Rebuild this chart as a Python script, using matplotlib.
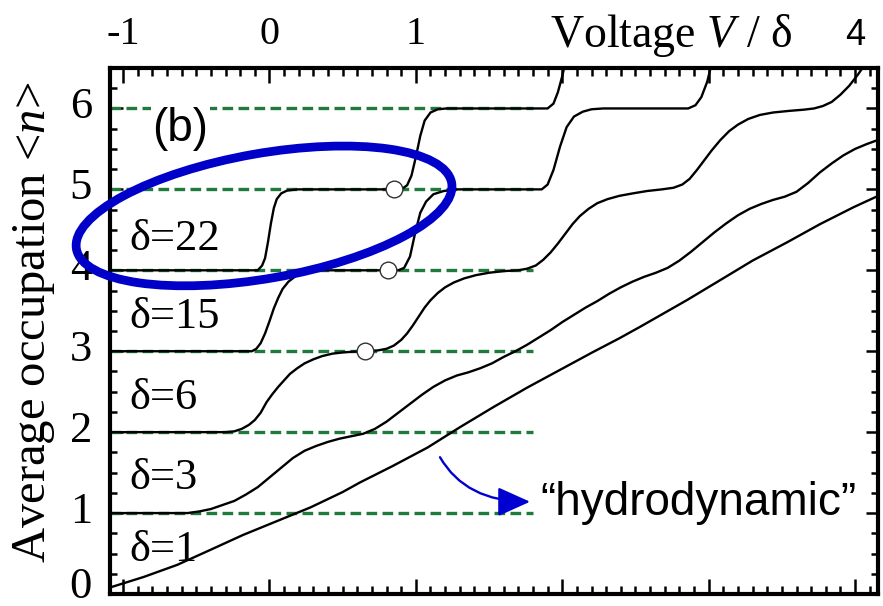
import numpy as np
import matplotlib.pyplot as plt
from matplotlib.patches import Ellipse, FancyArrowPatch
from matplotlib.transforms import IdentityTransform, ScaledTranslation

plt.rcParams['font.family'] = ['Liberation Serif', 'DejaVu Serif']
plt.rcParams['mathtext.fontset'] = 'custom'
plt.rcParams['mathtext.rm'] = 'Liberation Serif'
plt.rcParams['mathtext.it'] = 'Liberation Serif:italic'

# occupation curves <n>(V/delta), one per level spacing
d22_v = [-1.09, -0.08, -0.05, -0.03, -0.01, 0.01, 0.03, 0.05, 0.08, 0.12, 0.19,
         0.90, 0.94, 0.97, 1.00, 1.03, 1.06, 1.10, 1.15, 1.21,
         1.90, 1.94, 1.97, 2.00, 2.02]
d22_n = [4.0, 4.0, 4.06, 4.15, 4.35, 4.58, 4.77, 4.88, 4.95, 4.985, 5.0,
         5.0, 5.05, 5.17, 5.40, 5.66, 5.85, 5.95, 5.99, 6.0,
         6.0, 6.06, 6.2, 6.4, 6.56]

d15_v = [-1.09, -0.12, -0.09, -0.06, -0.03, 0.00, 0.03, 0.06, 0.09, 0.13, 0.18,
         0.24, 0.30, 0.36,
         0.88, 0.92, 0.96, 0.995, 1.03, 1.07, 1.12, 1.19, 1.28,
         1.86, 1.90, 1.94, 1.985, 2.03, 2.08, 2.14, 2.20, 2.28,
         2.86, 2.91, 2.95, 2.99, 3.02]
d15_n = [3.0, 3.0, 3.03, 3.10, 3.22, 3.37, 3.53, 3.66, 3.77, 3.86, 3.93,
         3.97, 3.99, 4.0,
         4.0, 4.03, 4.17, 4.46, 4.71, 4.85, 4.94, 4.98, 5.0,
         5.0, 5.06, 5.24, 5.53, 5.77, 5.90, 5.96, 5.99, 6.0,
         6.0, 6.04, 6.14, 6.33, 6.55]

d6_v = [-1.09, -0.30, -0.24, -0.19, -0.14, -0.10, -0.06, -0.02, 0.02, 0.06,
        0.10, 0.14, 0.19, 0.24, 0.30, 0.36, 0.43, 0.50, 0.58, 0.66, 0.74,
        0.80, 0.85, 0.90, 0.94, 0.98, 1.02, 1.06, 1.10, 1.15, 1.20, 1.26,
        1.33, 1.41, 1.50, 1.60, 1.70, 1.76, 1.82, 1.87, 1.92, 1.97, 2.02,
        2.07, 2.12, 2.18, 2.24, 2.31, 2.39, 2.48, 2.58, 2.68, 2.76, 2.82,
        2.87, 2.92, 2.97, 3.02, 3.08, 3.14, 3.20, 3.27, 3.35, 3.44, 3.55,
        3.65, 3.72, 3.78, 3.84, 3.90, 3.96, 4.02, 4.07]
d6_n = [2.0, 2.0, 2.01, 2.04, 2.09, 2.15, 2.24, 2.37, 2.47, 2.56,
        2.64, 2.72, 2.79, 2.85, 2.90, 2.94, 2.97, 2.985, 2.995, 3.0, 3.01,
        3.03, 3.07, 3.14, 3.22, 3.32, 3.43, 3.54, 3.63, 3.72, 3.79, 3.85,
        3.90, 3.94, 3.97, 3.99, 4.0, 4.02, 4.06, 4.13, 4.22, 4.33, 4.45,
        4.57, 4.67, 4.76, 4.83, 4.88, 4.92, 4.95, 4.98, 5.0, 5.02, 5.06,
        5.13, 5.24, 5.36, 5.48, 5.61, 5.72, 5.80, 5.87, 5.92, 5.95, 5.97,
        5.985, 6.0, 6.03, 6.08, 6.17, 6.28, 6.42, 6.55]

d3_v = [-1.09, -0.56, -0.48, -0.40, -0.32, -0.24, -0.16, -0.08, 0.00, 0.08,
        0.16, 0.24, 0.32, 0.40, 0.48, 0.56, 0.64, 0.72, 0.80, 0.88, 0.96,
        1.04, 1.12, 1.20, 1.28, 1.36, 1.44, 1.52, 1.60, 1.68, 1.76, 1.84,
        1.92, 2.00, 2.08, 2.16, 2.24, 2.32, 2.40, 2.48, 2.56, 2.64, 2.72,
        2.80, 2.88, 2.96, 3.04, 3.12, 3.20, 3.28, 3.36, 3.44, 3.52, 3.60,
        3.68, 3.76, 3.84, 3.92, 4.00, 4.08, 4.17]
d3_n = [1.0, 1.0, 1.02, 1.05, 1.10, 1.15, 1.23, 1.32, 1.44, 1.56,
        1.68, 1.77, 1.83, 1.88, 1.92, 1.95, 1.98, 2.04, 2.13, 2.24, 2.35,
        2.46, 2.56, 2.64, 2.70, 2.74, 2.79, 2.85, 2.93, 3.00, 3.08, 3.17,
        3.26, 3.36, 3.45, 3.54, 3.62, 3.71, 3.79, 3.86, 3.92, 3.97, 4.03,
        4.12, 4.23, 4.35, 4.47, 4.58, 4.68, 4.76, 4.82, 4.87, 4.91, 4.97,
        5.08, 5.21, 5.32, 5.42, 5.50, 5.56, 5.62]

d1_v = [-1.09, -0.86, -0.63, -0.41, -0.18, 0.05, 0.28, 0.50, 0.62, 0.84, 1.08,
        1.30, 1.53, 1.76, 1.985, 2.21, 2.39, 2.53, 2.85, 3.08, 3.30, 3.54, 3.76,
        3.99, 4.17]
d1_n = [0.08, 0.21, 0.36, 0.54, 0.73, 0.90, 1.07, 1.26, 1.38, 1.58, 1.81,
        2.06, 2.31, 2.55, 2.77, 2.99, 3.16, 3.30, 3.63, 3.88, 4.12, 4.35, 4.57,
        4.78, 4.93]

curves = [(d22_v, d22_n), (d15_v, d15_n), (d6_v, d6_n), (d3_v, d3_n), (d1_v, d1_n)]

# labels and their left-edge / baseline positions
deltas = ['δ=22', 'δ=15', 'δ=6', 'δ=3', 'δ=1']
label_n = [4.25, 3.29, 2.29, 1.30, 0.41]

# integer occupation guide lines
levels = [1, 2, 3, 4, 5, 6]
level_end = 1.80

# marked points
dot_v = [0.85, 0.81, 0.65]
dot_n = [5.0, 4.0, 3.0]

top_ticks = [-1, 0, 1, 2, 3, 4]
top_labels = ['-1', '0', '1', '', '', '4']

fig = plt.figure(figsize=(8.83, 6.06), dpi=100)
ax = fig.add_axes([0.1246, 0.0198, 0.8698, 0.868])
ax.set_xlim(-1.089, 4.157)
ax.set_ylim(0, 6.5)

green = '#1f7a3c'
for lv in levels:
    ax.plot([-1.089, level_end], [lv, lv], color=green, lw=2.4,
            dashes=(3.2, 1.6), zorder=2)

for v, n in curves:
    ax.plot(v, n, color='black', lw=1.7, solid_joinstyle='round', zorder=3)

ax.plot(dot_v, dot_n, 'o', ms=12, mfc='white', mec='#333333', mew=1.0, zorder=5)

for txt, y in zip(deltas, label_n):
    ax.text(-0.955, y, txt, fontsize=32, ha='left', va='baseline', zorder=4)

ax.text(-0.61, 5.74, '(b)', fontsize=33, family='Liberation Sans',
        ha='center', va='center', zorder=4,
        bbox=dict(facecolor='white', edgecolor='none', pad=1))

ax.text(1.85, 0.98, '\u201chydrodynamic\u201d', fontsize=33,
        family='Liberation Sans', ha='left', va='baseline', zorder=4)

arrow = FancyArrowPatch((1.165, 1.69), (1.78, 1.14),
                        connectionstyle='angle3,angleA=-60,angleB=0',
                        arrowstyle='-|>,head_length=1.0,head_width=0.45',
                        mutation_scale=20, color='#0000d0', lw=1.7,
                        shrinkA=0, shrinkB=0, zorder=6)
ax.add_patch(arrow)

# axes styling
for sp in ax.spines.values():
    sp.set_linewidth(3)
ax.xaxis.set_ticks_position('both')
ax.yaxis.set_ticks_position('both')
ax.set_xticks(top_ticks, top_labels)
ax.set_xticks(np.arange(-1.0, 4.15, 0.1), minor=True)
ax.set_yticks(range(7))
ax.set_yticks(np.arange(0, 6.5, 0.25), minor=True)
ax.tick_params(axis='x', which='both', direction='in', labeltop=True,
               labelbottom=False, labelsize=29, pad=11)
ax.tick_params(axis='x', which='major', length=11, width=1.8)
ax.tick_params(axis='x', which='minor', length=6, width=1.8)
ax.tick_params(axis='y', which='both', direction='in', labelsize=32, pad=13)
ax.tick_params(axis='y', which='major', length=9, width=1.8)
ax.tick_params(axis='y', which='minor', length=5, width=1.8)
for lab in ax.get_xticklabels():
    if lab.get_text() == '4':
        lab.set_fontfamily('Liberation Sans')
        lab.set_fontsize(26)

fig.text(550 / 883, 1 - 47 / 606, 'Voltage $V$ / δ', fontsize=33,
         ha='left', va='baseline')
fig.text(45 / 883, 1 - 322 / 606, 'Average occupation <$n$>', fontsize=35,
         rotation=90, rotation_mode='anchor', ha='center', va='baseline')

# highlight ring around the sharp-step curve, drawn in pixel units
fig.canvas.draw()
for lab in ax.get_yticklabels():
    up = 0.12 if lab.get_text() == '0' else 0.06
    lab.set_transform(lab.get_transform() +
                      ScaledTranslation(0, up, fig.dpi_scale_trans))
cx, cy = ax.transData.transform((-0.037, 4.672))
ring = Ellipse((cx, cy), 381, 125, angle=10, transform=IdentityTransform(),
               fill=False, edgecolor='#0000c8', lw=6.3, clip_on=False, zorder=10)
ax.add_patch(ring)

fig.savefig('out.png', dpi=100)
